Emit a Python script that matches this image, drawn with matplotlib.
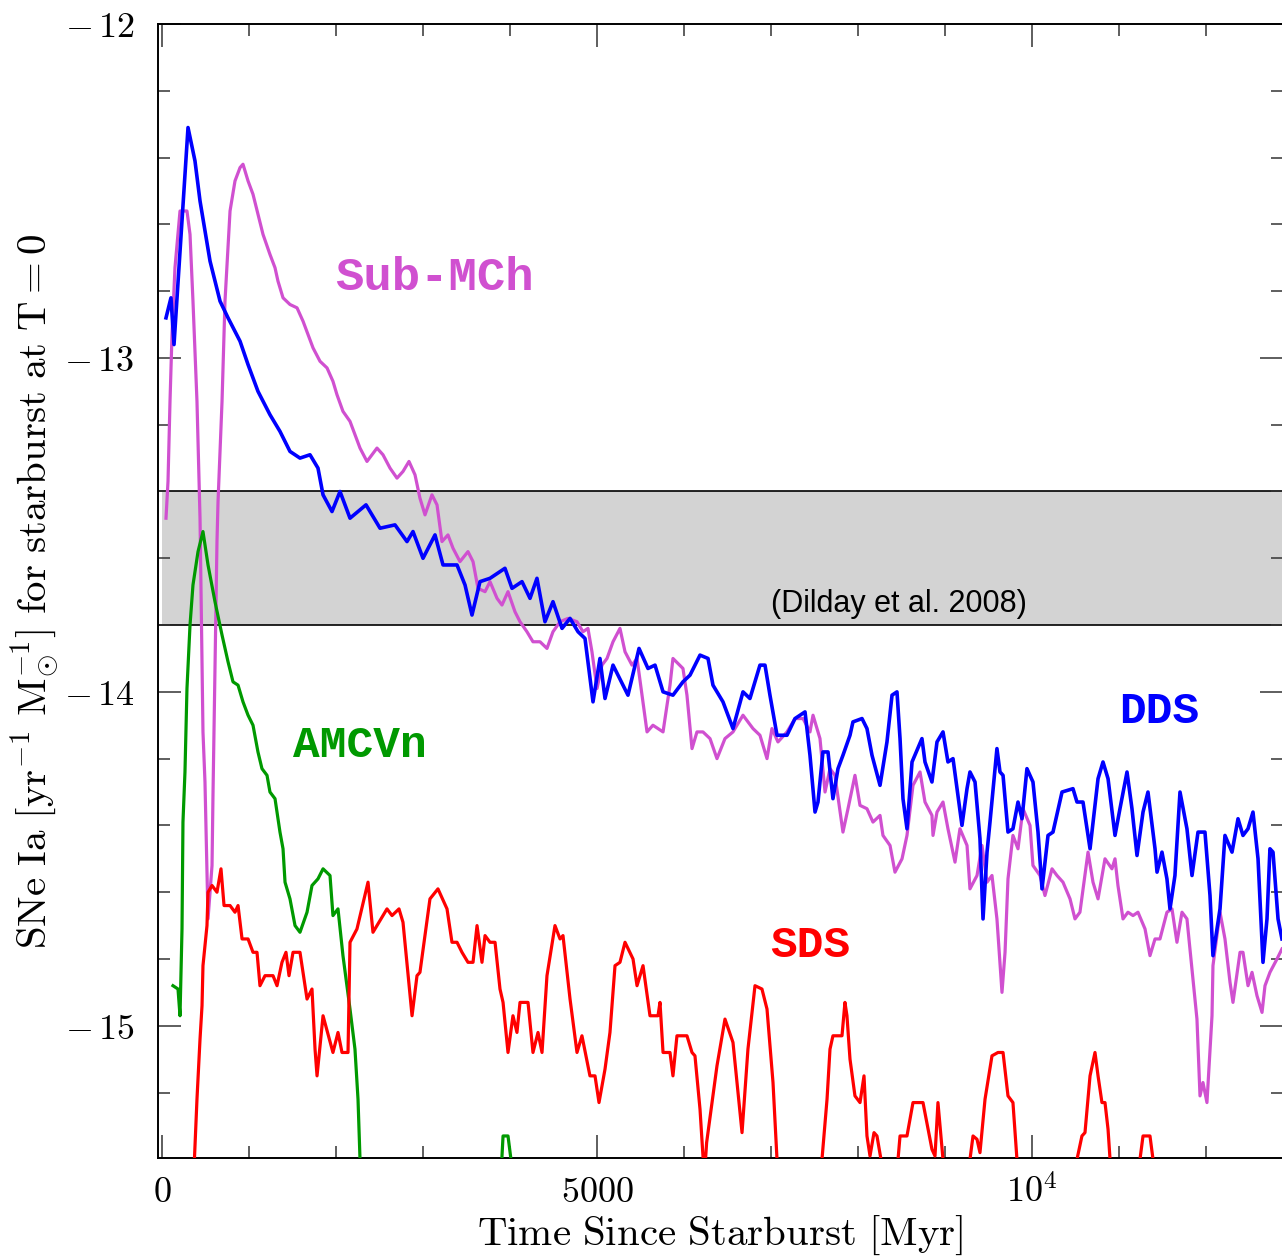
import numpy as np
import matplotlib
matplotlib.use('Agg')
import matplotlib.pyplot as plt
from matplotlib.ticker import MultipleLocator, FixedLocator, FixedFormatter

# ---- data (time since starburst [Myr], log10 SN Ia rate) ----
dds_t = [46, 103, 138, 299, 379, 437, 494, 552, 609, 667, 759, 897, 989, 1103, 1241, 1356,
         1471, 1586, 1701, 1793, 1851, 1954, 2046, 2161, 2345, 2506, 2678, 2816, 2885, 3000,
         3138, 3230, 3391, 3483, 3563, 3655, 3770, 3942, 4023, 4138, 4230, 4310, 4402, 4494,
         4598, 4690, 4782, 4862, 4954, 5034, 5092, 5184, 5356, 5483, 5586, 5667, 5759, 5873,
         5988, 6069, 6184, 6276, 6333, 6448, 6563, 6678, 6758, 6873, 6931, 6988, 7069, 7184,
         7276, 7391, 7448, 7506, 7540, 7597, 7655, 7712, 7770, 7827, 7908, 7942, 8046, 8103,
         8161, 8253, 8333, 8391, 8448, 8483, 8517, 8563, 8621, 8735, 8770, 8850, 8908, 8977,
         9034, 9092, 9138, 9195, 9253, 9287, 9345, 9402, 9437, 9483, 9517, 9597, 9632, 9667,
         9724, 9781, 9839, 9885, 9942, 10011, 10069, 10115, 10184, 10241, 10345, 10471, 10517,
         10586, 10667, 10759, 10816, 10874, 10954, 11011, 11092, 11149, 11207, 11276, 11333,
         11414, 11437, 11494, 11551, 11586, 11643, 11701, 11781, 11839, 11908, 11988, 12046,
         12080, 12161, 12218, 12299, 12368, 12425, 12483, 12540, 12598, 12655, 12701, 12735,
         12770, 12828, 12873]
dds_r = [-12.88, -12.82, -12.96, -12.31, -12.41, -12.53, -12.62, -12.71, -12.77, -12.83, -12.88,
         -12.95, -13.02, -13.10, -13.17, -13.22, -13.28, -13.30, -13.29, -13.33, -13.41, -13.46,
         -13.40, -13.48, -13.44, -13.51, -13.50, -13.55, -13.52, -13.60, -13.53, -13.62, -13.62,
         -13.68, -13.77, -13.67, -13.66, -13.63, -13.69, -13.67, -13.72, -13.66, -13.79, -13.73,
         -13.81, -13.78, -13.82, -13.84, -14.03, -13.90, -14.02, -13.92, -14.01, -13.87, -13.93,
         -13.92, -14.00, -14.01, -13.97, -13.95, -13.89, -13.90, -13.98, -14.03, -14.11, -14.00,
         -14.02, -13.92, -13.92, -14.01, -14.13, -14.13, -14.08, -14.06, -14.19, -14.36, -14.33,
         -14.18, -14.18, -14.32, -14.23, -14.19, -14.13, -14.09, -14.08, -14.11, -14.19, -14.28,
         -14.15, -14.01, -14.00, -14.14, -14.32, -14.41, -14.21, -14.14, -14.21, -14.27, -14.15,
         -14.12, -14.21, -14.20, -14.29, -14.40, -14.29, -14.24, -14.27, -14.44, -14.68, -14.48,
         -14.39, -14.17, -14.24, -14.25, -14.42, -14.41, -14.33, -14.38, -14.23, -14.27, -14.42,
         -14.59, -14.43, -14.42, -14.30, -14.29, -14.33, -14.33, -14.47, -14.26, -14.21, -14.26,
         -14.43, -14.35, -14.24, -14.35, -14.49, -14.36, -14.30, -14.47, -14.54, -14.48, -14.56,
         -14.65, -14.55, -14.30, -14.41, -14.55, -14.42, -14.42, -14.61, -14.79, -14.65, -14.43,
         -14.48, -14.38, -14.43, -14.41, -14.36, -14.50, -14.81, -14.68, -14.47, -14.48, -14.68,
         -14.74]

submch_t = [46, 69, 92, 115, 149, 207, 241, 287, 322, 356, 402, 437, 471, 494, 529, 575, 586,
            609, 632, 644, 690, 724, 782, 839, 897, 931, 989, 1046, 1103, 1161, 1241, 1299,
            1333, 1391, 1471, 1552, 1621, 1678, 1736, 1816, 1897, 1965, 2011, 2080, 2161, 2218,
            2276, 2356, 2471, 2540, 2621, 2701, 2770, 2839, 2908, 2965, 3023, 3103, 3161, 3218,
            3287, 3345, 3425, 3517, 3575, 3632, 3713, 3770, 3851, 3908, 3977, 4057, 4115, 4195,
            4264, 4345, 4425, 4494, 4575, 4667, 4770, 4839, 4896, 4942, 5000, 5057, 5115, 5184,
            5264, 5322, 5402, 5460, 5517, 5575, 5643, 5759, 5839, 5873, 5988, 6034, 6092, 6149,
            6218, 6299, 6379, 6471, 6563, 6678, 6793, 6873, 6954, 7011, 7080, 7184, 7276, 7368,
            7448, 7483, 7563, 7621, 7678, 7735, 7827, 7885, 7965, 8023, 8103, 8172, 8253, 8287,
            8368, 8425, 8506, 8563, 8632, 8713, 8770, 8850, 8862, 8908, 8977, 9034, 9115, 9172,
            9253, 9287, 9368, 9425, 9483, 9540, 9597, 9655, 9690, 9724, 9781, 9839, 9896, 9977,
            10011, 10092, 10149, 10230, 10287, 10356, 10437, 10494, 10551, 10644, 10701, 10759,
            10839, 10919, 10954, 10988, 11046, 11103, 11161, 11218, 11299, 11356, 11414, 11471,
            11551, 11609, 11666, 11724, 11781, 11839, 11896, 11931, 11965, 12011, 12069, 12080,
            12161, 12218, 12276, 12310, 12391, 12425, 12483, 12529, 12586, 12644, 12678, 12735,
            12816, 12873]
submch_r = [-13.48, -13.37, -13.13, -12.93, -12.73, -12.56, -12.56, -12.56, -12.63, -12.83,
            -13.13, -13.48, -14.12, -14.27, -14.68, -14.52, -14.31, -13.93, -13.55, -13.43,
            -13.13, -12.83, -12.56, -12.47, -12.43, -12.42, -12.47, -12.51, -12.57, -12.63,
            -12.69, -12.73, -12.77, -12.82, -12.84, -12.85, -12.89, -12.93, -12.97, -13.01,
            -13.03, -13.07, -13.11, -13.16, -13.19, -13.23, -13.27, -13.31, -13.27, -13.29,
            -13.33, -13.36, -13.34, -13.31, -13.35, -13.42, -13.47, -13.41, -13.44, -13.55,
            -13.53, -13.57, -13.61, -13.58, -13.61, -13.69, -13.70, -13.67, -13.72, -13.74,
            -13.70, -13.76, -13.79, -13.82, -13.85, -13.85, -13.87, -13.82, -13.79, -13.78,
            -13.79, -13.82, -13.81, -13.88, -13.99, -13.92, -13.90, -13.85, -13.81, -13.88,
            -13.92, -13.90, -14.01, -14.12, -14.10, -14.12, -13.98, -13.90, -13.93, -14.01,
            -14.17, -14.12, -14.12, -14.14, -14.20, -14.14, -14.12, -14.07, -14.11, -14.13,
            -14.20, -14.11, -14.15, -14.12, -14.08, -14.08, -14.12, -14.07, -14.14, -14.30,
            -14.23, -14.25, -14.42, -14.35, -14.25, -14.34, -14.35, -14.39, -14.37, -14.43,
            -14.46, -14.54, -14.50, -14.43, -14.28, -14.24, -14.33, -14.37, -14.43, -14.36,
            -14.33, -14.41, -14.51, -14.41, -14.46, -14.59, -14.55, -14.46, -14.57, -14.55,
            -14.68, -14.90, -14.78, -14.56, -14.43, -14.47, -14.35, -14.40, -14.52, -14.55,
            -14.61, -14.53, -14.55, -14.57, -14.62, -14.68, -14.66, -14.48, -14.57, -14.62,
            -14.50, -14.53, -14.50, -14.58, -14.68, -14.66, -14.67, -14.66, -14.71, -14.79,
            -14.74, -14.74, -14.66, -14.65, -14.75, -14.66, -14.68, -14.83, -14.98, -15.21,
            -15.17, -15.23, -14.97, -14.82, -14.66, -14.74, -14.87, -14.93, -14.78, -14.78,
            -14.88, -14.84, -14.91, -14.96, -14.88, -14.84, -14.80, -14.77]

# AM CVn: main track plus a small bump near 4 Gyr (nan splits the pieces)
amcvn_t = [126, 184, 207, 230, 241, 264, 287, 322, 356, 414, 471, 529, 609, 690, 759, 816,
           874, 931, 989, 1046, 1103, 1149, 1207, 1241, 1299, 1356, 1391, 1414, 1471, 1529,
           1586, 1667, 1724, 1793, 1851, 1931, 1965, 2023, 2080, 2161, 2218, 2253, 2276, 2300,
           np.nan, 3890, 3908, 3920, 3977, 4011, 4030]
amcvn_r = [-14.88, -14.89, -14.97, -14.71, -14.39, -14.24, -13.99, -13.80, -13.68, -13.58,
           -13.52, -13.62, -13.73, -13.83, -13.91, -13.97, -13.98, -14.03, -14.07, -14.10,
           -14.18, -14.23, -14.25, -14.30, -14.32, -14.42, -14.47, -14.57, -14.62, -14.70,
           -14.72, -14.66, -14.58, -14.56, -14.53, -14.55, -14.67, -14.65, -14.79, -14.95,
           -15.07, -15.22, -15.40, -15.60,
           np.nan, -15.60, -15.39, -15.33, -15.33, -15.40, -15.60]

sds_t = [340, 402, 437, 460, 471, 517, 529, 575, 632, 678, 713, 782, 839, 874, 920, 989, 1046,
         1092, 1126, 1184, 1276, 1322, 1379, 1425, 1460, 1506, 1563, 1586, 1667, 1724, 1759,
         1782, 1851, 1965, 2023, 2069, 2138, 2161, 2241, 2368, 2425, 2586, 2644, 2724, 2770,
         2874, 2931, 2965, 3080, 3172, 3276, 3333, 3391, 3448, 3517, 3575, 3621, 3678, 3713,
         3770, 3828, 3885, 3920, 3977, 4034, 4080, 4115, 4207, 4264, 4322, 4368, 4425, 4517,
         4575, 4609, 4690, 4770, 4827, 4919, 4977, 5023, 5092, 5149, 5207, 5264, 5322, 5414,
         5460, 5529, 5609, 5701, 5724, 5759, 5839, 5873, 5919, 6034, 6092, 6126, 6184, 6218,
         6235, 6260, 6322, 6379, 6471, 6563, 6667, 6735, 6816, 6896, 6954, 7023, 7069, 7120,
         7300, 7540, 7586, 7644, 7678, 7712, 7816, 7850, 7873, 7908, 7965, 8023, 8069, 8103,
         8138, 8184, 8218, 8264, 8350, 8400, 8460, 8483, 8563, 8632, 8747, 8850, 8885, 8919,
         8977, 9050, 9230, 9287, 9322, 9368, 9402, 9460, 9540, 9609, 9667, 9724, 9781, 9827,
         9900, 10450, 10517, 10574, 10609, 10667, 10724, 10759, 10804, 10839, 10874, 10897,
         10990, 11190, 11241, 11276, 11356, 11391, 11450, 12900]
sds_r = [-15.60, -15.22, -15.04, -14.94, -14.82, -14.70, -14.60, -14.58, -14.60, -14.53, -14.64,
         -14.64, -14.66, -14.64, -14.74, -14.74, -14.78, -14.78, -14.88, -14.85, -14.85, -14.88,
         -14.81, -14.78, -14.85, -14.78, -14.78, -14.78, -14.92, -14.89, -15.07, -15.15, -14.97,
         -15.08, -15.02, -15.08, -15.08, -14.75, -14.71, -14.57, -14.72, -14.65, -14.67, -14.65,
         -14.69, -14.97, -14.85, -14.84, -14.62, -14.59, -14.65, -14.75, -14.75, -14.78, -14.81,
         -14.81, -14.70, -14.81, -14.73, -14.75, -14.75, -14.89, -14.93, -15.08, -14.97, -15.02,
         -14.93, -14.93, -15.08, -15.02, -15.08, -14.85, -14.70, -14.74, -14.73, -14.92, -15.08,
         -15.03, -15.15, -15.15, -15.23, -15.13, -15.02, -14.82, -14.81, -14.75, -14.80, -14.88,
         -14.82, -14.97, -14.97, -14.93, -15.08, -15.08, -15.15, -15.03, -15.03, -15.08, -15.09,
         -15.25, -15.39, -15.45, -15.35, -15.23, -15.12, -14.98, -15.05, -15.32, -15.07, -14.88,
         -14.89, -14.95, -15.17, -15.40, -15.70, -15.80, -15.70, -15.40, -15.22, -15.07, -15.03,
         -15.03, -14.93, -14.97, -15.10, -15.21, -15.23, -15.15, -15.33, -15.39, -15.32, -15.33,
         -15.40, -15.60, -15.60, -15.40, -15.33, -15.33, -15.23, -15.23, -15.37, -15.39, -15.23,
         -15.40, -15.60, -15.60, -15.40, -15.33, -15.34, -15.38, -15.22, -15.09, -15.08, -15.08,
         -15.21, -15.23, -15.40, -15.60, -15.60, -15.40, -15.33, -15.32, -15.15, -15.08, -15.15,
         -15.23, -15.23, -15.31, -15.40, -15.60, -15.60, -15.40, -15.33, -15.33, -15.40, -15.60,
         -15.60]

# observed rate band
obs_lo, obs_hi = -13.8, -13.4

y_ticks = [-15, -14, -13, -12]
y_labels = [r'$-\,15$', r'$-\,14$', r'$-\,13$', r'$-\,12$']
x_ticks = [0, 5000, 10000]
x_labels = ['$0$', '$5000$', '$10^4$']

plt.rcParams['mathtext.fontset'] = 'cm'

fig = plt.figure(figsize=(12.82, 12.60), dpi=100)
ax = fig.add_axes([158 / 1282, 102 / 1260, 1125 / 1282, 1134 / 1260])

ax.axhspan(obs_lo, obs_hi, xmin=46 / 12931, xmax=1, color='#d3d3d3', lw=0, zorder=0)
ax.axhline(obs_lo, color='black', lw=1.2, zorder=1)
ax.axhline(obs_hi, color='black', lw=1.2, zorder=1)
ax.text(7000, -13.737, '(Dilday et al. 2008)', fontsize=22, family='Liberation Sans',
        va='center', ha='left', zorder=2)

ax.plot(submch_t, submch_r, color='#d050d0', lw=2.3, zorder=3)
ax.plot(dds_t, dds_r, color='#0000ff', lw=2.6, zorder=4)
ax.plot(amcvn_t, amcvn_r, color='#009900', lw=2.3, zorder=5)
ax.plot(sds_t, sds_r, color='#ff0000', lw=2.3, zorder=6)

lab = dict(family='Liberation Mono', weight='bold', va='center', ha='left')
ax.text(1995, -12.761, 'Sub-MCh', color='#d050d0', fontsize=34, **lab)
ax.text(1505, -14.16, 'AMCVn', color='#009900', fontsize=32, **lab)
ax.text(11000, -14.06, 'DDS', color='#0000ff', fontsize=32, **lab)
ax.text(6990, -14.76, 'SDS', color='#ff0000', fontsize=32, **lab)

ax.set_xlim(-46, 12885)
ax.set_ylim(-15.396, -12.0)

ax.xaxis.set_major_locator(FixedLocator(x_ticks))
ax.xaxis.set_major_formatter(FixedFormatter(x_labels))
ax.xaxis.set_minor_locator(MultipleLocator(1000))
ax.yaxis.set_major_locator(FixedLocator(y_ticks))
ax.yaxis.set_major_formatter(FixedFormatter(y_labels))
ax.yaxis.set_minor_locator(MultipleLocator(0.2))

ax.tick_params(which='both', direction='in', top=True, right=True, color='#333333')
ax.tick_params(which='major', length=16.5, width=1.1, labelsize=26)
ax.tick_params(which='minor', length=8.5, width=1.1)
ax.tick_params(axis='y', which='major', pad=17)
ax.tick_params(axis='x', which='major', pad=12)
for s in ax.spines.values():
    s.set_linewidth(1.4)

ax.set_xlabel(r'$\mathrm{Time\ Since\ Starburst\ [Myr]}$', fontsize=29.5, labelpad=3)
ax.set_ylabel(r'$\mathrm{SNe\ Ia\ [yr^{-1}\ M_{\odot}^{-1}]\ for\ starburst\ at\ T{=}0}$',
              fontsize=29.5, labelpad=2)

fig.savefig('out.png', dpi=100)
